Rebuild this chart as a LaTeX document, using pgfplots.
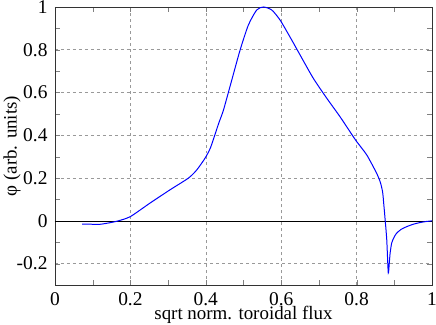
\documentclass[border=0pt]{standalone}
\usepackage{fontspec}
\setmainfont{Liberation Serif}
\usepackage{pgfplots}
\pgfplotsset{compat=1.18}

\begin{document}
\fontsize{19}{22}\selectfont
\begin{tikzpicture}
\begin{axis}[
    scale only axis,
    width=377bp, height=278bp,
    xmin=0, xmax=1, ymin=-0.3, ymax=1,
    xtick={0,0.2,0.4,0.6,0.8,1},
    ytick={-0.2,0,0.2,0.4,0.6,0.8,1},
    minor x tick num=1, minor y tick num=1,
    tick align=inside,
    major tick length=5bp, minor tick length=5bp,
    xmajorgrids, ymajorgrids,
    grid style={dashed, gray!80, line width=0.6pt},
    axis line style={line width=0.8pt, black!80},
    /pgf/number format/assume math mode=true,
    /pgf/number format/fixed,
    ticklabel style={font=\fontsize{19.5}{22}\selectfont},
    xticklabel style={yshift=-1bp},
    yticklabel style={xshift=-1bp},
    xlabel={sqrt norm. toroidal flux},
    ylabel={φ (arb. units)},
    label style={font=\fontsize{19}{22}\selectfont},
    xlabel style={at={(axis description cs:0.5,0)}, anchor=center, yshift=-30bp},
    ylabel style={at={(axis description cs:0,0.5)}, anchor=center, rotate=0, yshift=43bp},
]
\addplot[black, line width=0.6pt, forget plot] coordinates {(0,0) (1,0)};
\addplot[blue, line width=1pt, smooth, tension=0.4] coordinates {
(0.072,-0.015)
(0.10,-0.016)
(0.12,-0.016)
(0.145,-0.009)
(0.168,0.0)
(0.20,0.02)
(0.252,0.083)
(0.305,0.145)
(0.354,0.200)
(0.376,0.238)
(0.398,0.293)
(0.412,0.34)
(0.424,0.402)
(0.435,0.46)
(0.447,0.519)
(0.469,0.659)
(0.491,0.799)
(0.513,0.916)
(0.535,0.986)
(0.553,1.0)
(0.575,0.986)
(0.597,0.939)
(0.623,0.861)
(0.65,0.776)
(0.685,0.667)
(0.721,0.573)
(0.756,0.487)
(0.791,0.394)
(0.8,0.371)
(0.827,0.308)
(0.853,0.223)
(0.863,0.18)
(0.869,0.135)
(0.872,0.08)
(0.875,0.02)
(0.88,-0.089)
(0.884,-0.244)
(0.887,-0.19)
(0.889,-0.15)
(0.893,-0.104)
(0.899,-0.078)
(0.906,-0.058)
(0.918,-0.040)
(0.933,-0.027)
(0.95,-0.016)
(0.968,-0.008)
(0.985,-0.003)
(1.0,0.0)
};
\end{axis}
\pgfresetboundingbox
\path[use as bounding box] (-55bp,-40bp) rectangle (381bp,285bp);
\end{tikzpicture}
\end{document}
